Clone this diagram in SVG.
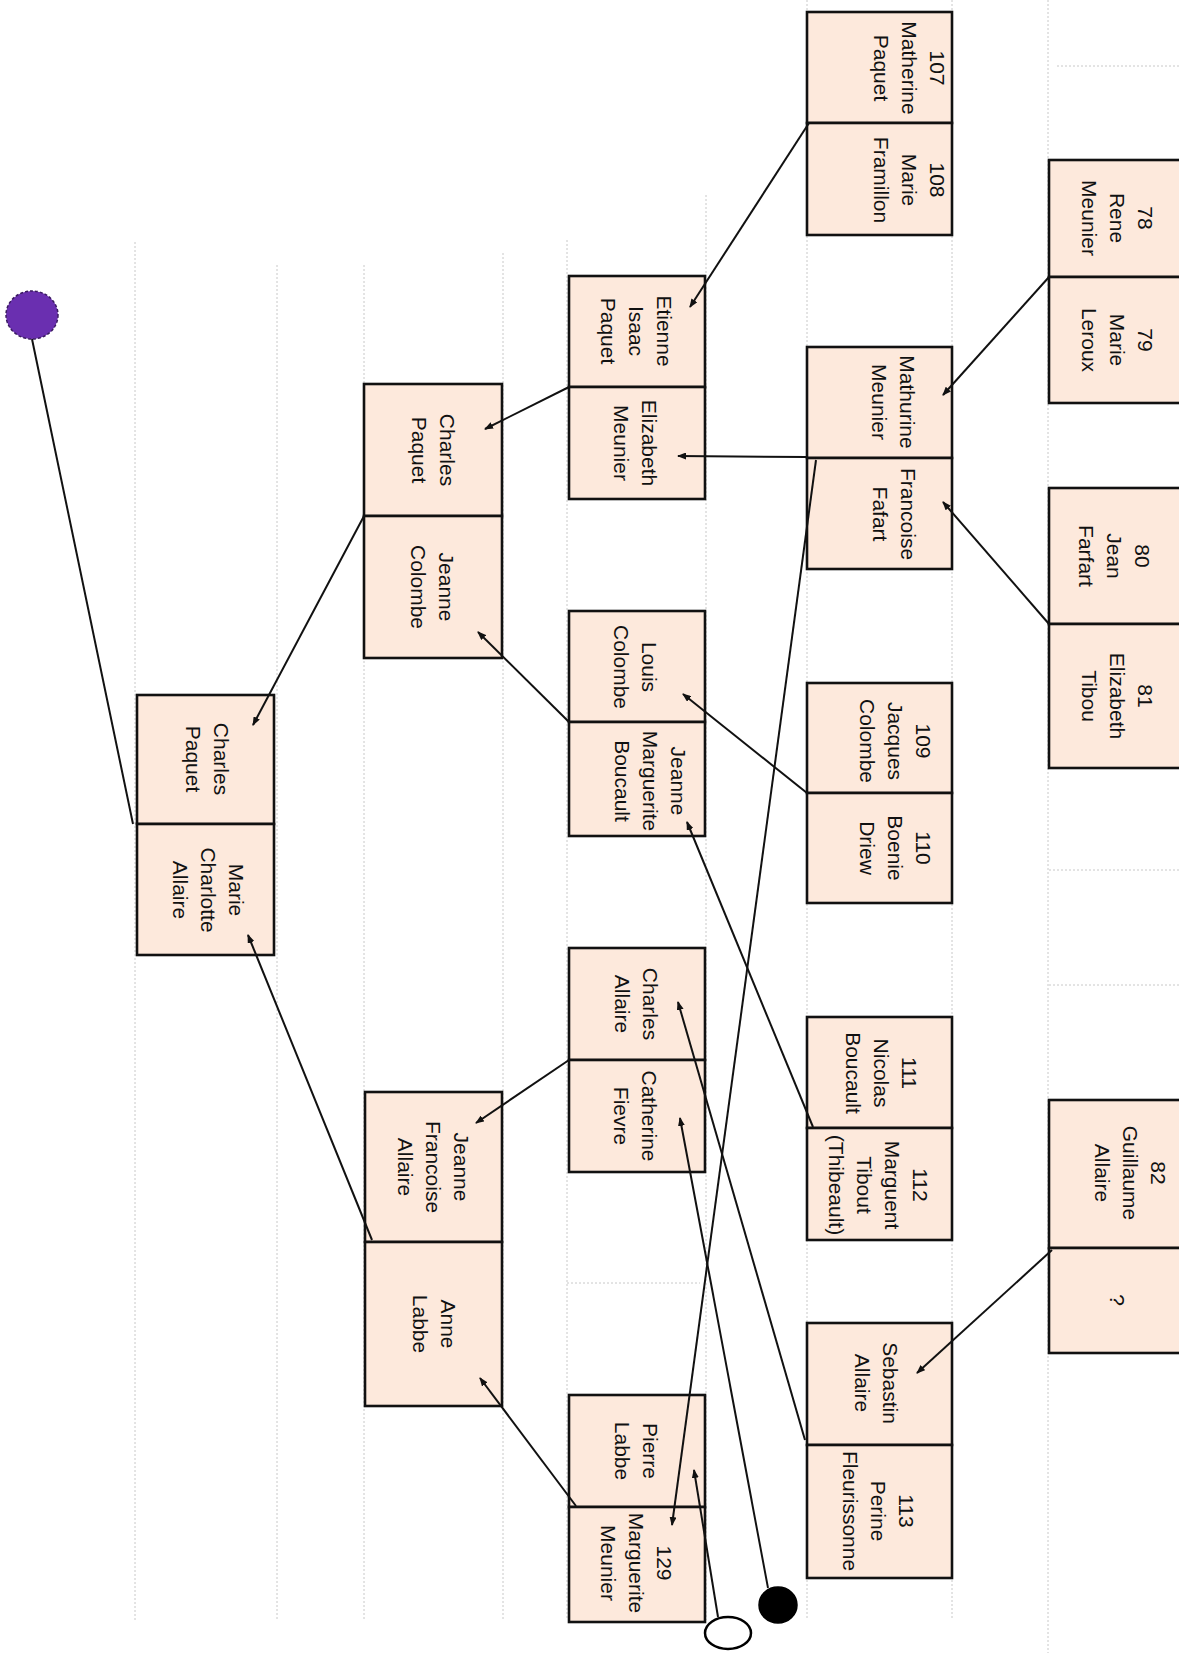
<svg xmlns="http://www.w3.org/2000/svg" width="1179" height="1653" viewBox="0 0 1179 1653">
<style>
.guide{stroke:#c8c8c8;stroke-width:1;stroke-dasharray:2 2;fill:none}
.box{fill:#fde9dc;stroke:#111;stroke-width:2.6}
.t{font-family:"Liberation Sans",Arial,sans-serif;font-size:21px;fill:#111;text-anchor:middle}
.c{stroke:#111;stroke-width:2;fill:none;marker-end:url(#ah)}
.cn{stroke:#111;stroke-width:2;fill:none}
</style>
<defs>
<marker id="ah" markerUnits="userSpaceOnUse" markerWidth="9" markerHeight="7" refX="8" refY="3.5" orient="auto">
<path d="M0,0 L9,3.5 L0,7 z" fill="#111"/>
</marker>
</defs>
<rect width="1179" height="1653" fill="#fff"/>
<g id="guides">
<line class="guide" x1="135" y1="242" x2="135" y2="1620"/>
<line class="guide" x1="277" y1="265" x2="277" y2="1620"/>
<line class="guide" x1="364" y1="265" x2="364" y2="1620"/>
<line class="guide" x1="503" y1="253" x2="503" y2="1620"/>
<line class="guide" x1="567" y1="240" x2="567" y2="1620"/>
<line class="guide" x1="706" y1="195" x2="706" y2="1620"/>
<line class="guide" x1="807" y1="0" x2="807" y2="1620"/>
<line class="guide" x1="952" y1="0" x2="952" y2="1620"/>
<line class="guide" x1="1048" y1="0" x2="1048" y2="1653"/>
<line class="guide" x1="1057" y1="66" x2="1179" y2="66"/>
<line class="guide" x1="1049" y1="870" x2="1179" y2="870"/>
<line class="guide" x1="1049" y1="985" x2="1179" y2="985"/>
<line class="guide" x1="567" y1="1283" x2="700" y2="1283"/>
</g>

<g id="charles_paquet_1"><rect class="box" x="137" y="695" width="137" height="129"/>
<text class="t" transform="translate(207 759) rotate(90)"><tspan x="0" y="-7">Charles</tspan><tspan x="0" y="21">Paquet</tspan></text></g>
<g id="marie_charlotte_allaire"><rect class="box" x="137" y="824" width="137" height="131"/>
<text class="t" transform="translate(208 890) rotate(90)"><tspan x="0" y="-21">Marie</tspan><tspan x="0" y="7">Charlotte</tspan><tspan x="0" y="35">Allaire</tspan></text></g>

<g id="charles_paquet_2"><rect class="box" x="364" y="384" width="138" height="132"/>
<text class="t" transform="translate(433 450) rotate(90)"><tspan x="0" y="-7">Charles</tspan><tspan x="0" y="21">Paquet</tspan></text></g>
<g id="jeanne_colombe"><rect class="box" x="364" y="516" width="138" height="142"/>
<text class="t" transform="translate(432 587) rotate(90)"><tspan x="0" y="-7">Jeanne</tspan><tspan x="0" y="21">Colombe</tspan></text></g>
<g id="jeanne_francoise_allaire"><rect class="box" x="365" y="1092" width="137" height="150"/>
<text class="t" transform="translate(433 1167) rotate(90)"><tspan x="0" y="-21">Jeanne</tspan><tspan x="0" y="7">Francoise</tspan><tspan x="0" y="35">Allaire</tspan></text></g>
<g id="anne_labbe"><rect class="box" x="365" y="1242" width="137" height="164"/>
<text class="t" transform="translate(434 1324) rotate(90)"><tspan x="0" y="-7">Anne</tspan><tspan x="0" y="21">Labbe</tspan></text></g>

<g id="etienne_isaac_paquet"><rect class="box" x="569" y="276" width="136" height="111"/>
<text class="t" transform="translate(636 331) rotate(90)"><tspan x="0" y="-21">Etienne</tspan><tspan x="0" y="7">Isaac</tspan><tspan x="0" y="35">Paquet</tspan></text></g>
<g id="elizabeth_meunier"><rect class="box" x="569" y="387" width="136" height="112"/>
<text class="t" transform="translate(635 443) rotate(90)"><tspan x="0" y="-7">Elizabeth</tspan><tspan x="0" y="21">Meunier</tspan></text></g>
<g id="louis_colombe"><rect class="box" x="569" y="611" width="136" height="111"/>
<text class="t" transform="translate(635 667) rotate(90)"><tspan x="0" y="-7">Louis</tspan><tspan x="0" y="21">Colombe</tspan></text></g>
<g id="jeanne_marguerite_boucault"><rect class="box" x="569" y="722" width="136" height="114"/>
<text class="t" transform="translate(650 781) rotate(90)"><tspan x="0" y="-21">Jeanne</tspan><tspan x="0" y="7">Marguerite</tspan><tspan x="0" y="35">Boucault</tspan></text></g>
<g id="charles_allaire"><rect class="box" x="569" y="948" width="136" height="112"/>
<text class="t" transform="translate(636 1004) rotate(90)"><tspan x="0" y="-7">Charles</tspan><tspan x="0" y="21">Allaire</tspan></text></g>
<g id="catherine_fievre"><rect class="box" x="569" y="1060" width="136" height="112"/>
<text class="t" transform="translate(635 1116) rotate(90)"><tspan x="0" y="-7">Catherine</tspan><tspan x="0" y="21">Fievre</tspan></text></g>
<g id="pierre_labbe"><rect class="box" x="569" y="1395" width="136" height="112"/>
<text class="t" transform="translate(636 1451) rotate(90)"><tspan x="0" y="-7">Pierre</tspan><tspan x="0" y="21">Labbe</tspan></text></g>
<g id="p129_marguerite_meunier"><rect class="box" x="569" y="1507" width="136" height="115"/>
<text class="t" transform="translate(636 1563) rotate(90)"><tspan x="0" y="-21">129</tspan><tspan x="0" y="7">Marguerite</tspan><tspan x="0" y="35">Meunier</tspan></text></g>

<g id="p107_matherine_paquet"><rect class="box" x="807" y="12" width="145" height="111"/>
<text class="t" transform="translate(909 68) rotate(90)"><tspan x="0" y="-21">107</tspan><tspan x="0" y="7">Matherine</tspan><tspan x="0" y="35">Paquet</tspan></text></g>
<g id="p108_marie_framillon"><rect class="box" x="807" y="123" width="145" height="112"/>
<text class="t" transform="translate(909 180) rotate(90)"><tspan x="0" y="-21">108</tspan><tspan x="0" y="7">Marie</tspan><tspan x="0" y="35">Framillon</tspan></text></g>
<g id="mathurine_meunier"><rect class="box" x="807" y="347" width="145" height="111"/>
<text class="t" transform="translate(893 402) rotate(90)"><tspan x="0" y="-7">Mathurine</tspan><tspan x="0" y="21">Meunier</tspan></text></g>
<g id="francoise_fafart"><rect class="box" x="807" y="458" width="145" height="111"/>
<text class="t" transform="translate(894 514) rotate(90)"><tspan x="0" y="-7">Francoise</tspan><tspan x="0" y="21">Fafart</tspan></text></g>
<g id="p109_jacques_colombe"><rect class="box" x="807" y="683" width="145" height="110"/>
<text class="t" transform="translate(895 741) rotate(90)"><tspan x="0" y="-21">109</tspan><tspan x="0" y="7">Jacques</tspan><tspan x="0" y="35">Colombe</tspan></text></g>
<g id="p110_boenie_driew"><rect class="box" x="807" y="793" width="145" height="110"/>
<text class="t" transform="translate(895 848) rotate(90)"><tspan x="0" y="-21">110</tspan><tspan x="0" y="7">Boenie</tspan><tspan x="0" y="35">Driew</tspan></text></g>
<g id="p111_nicolas_boucault"><rect class="box" x="807" y="1017" width="145" height="111"/>
<text class="t" transform="translate(881 1073) rotate(90)"><tspan x="0" y="-21">111</tspan><tspan x="0" y="7">Nicolas</tspan><tspan x="0" y="35">Boucault</tspan></text></g>
<g id="p112_marguent_tibout"><rect class="box" x="807" y="1128" width="145" height="112"/>
<text class="t" transform="translate(878 1185) rotate(90)"><tspan x="0" y="-35">112</tspan><tspan x="0" y="-7">Marguent</tspan><tspan x="0" y="21">Tibout</tspan><tspan x="0" y="49">(Thibeault)</tspan></text></g>
<g id="sebastin_allaire"><rect class="box" x="807" y="1323" width="145" height="122"/>
<text class="t" transform="translate(876 1383) rotate(90)"><tspan x="0" y="-7">Sebastin</tspan><tspan x="0" y="21">Allaire</tspan></text></g>
<g id="p113_perine_fleurissonne"><rect class="box" x="807" y="1445" width="145" height="133"/>
<text class="t" transform="translate(878 1511) rotate(90)"><tspan x="0" y="-21">113</tspan><tspan x="0" y="7">Perine</tspan><tspan x="0" y="35">Fleurissonne</tspan></text></g>

<g id="p78_rene_meunier"><rect class="box" x="1049" y="160" width="150" height="117"/>
<text class="t" transform="translate(1117 218) rotate(90)"><tspan x="0" y="-21">78</tspan><tspan x="0" y="7">Rene</tspan><tspan x="0" y="35">Meunier</tspan></text></g>
<g id="p79_marie_leroux"><rect class="box" x="1049" y="277" width="150" height="126"/>
<text class="t" transform="translate(1117 340) rotate(90)"><tspan x="0" y="-21">79</tspan><tspan x="0" y="7">Marie</tspan><tspan x="0" y="35">Leroux</tspan></text></g>
<g id="p80_jean_farfart"><rect class="box" x="1049" y="488" width="150" height="136"/>
<text class="t" transform="translate(1114 556) rotate(90)"><tspan x="0" y="-21">80</tspan><tspan x="0" y="7">Jean</tspan><tspan x="0" y="35">Farfart</tspan></text></g>
<g id="p81_elizabeth_tibou"><rect class="box" x="1049" y="624" width="150" height="144"/>
<text class="t" transform="translate(1117 696) rotate(90)"><tspan x="0" y="-21">81</tspan><tspan x="0" y="7">Elizabeth</tspan><tspan x="0" y="35">Tibou</tspan></text></g>
<g id="p82_guillaume_allaire"><rect class="box" x="1049" y="1100" width="150" height="148"/>
<text class="t" transform="translate(1130 1173) rotate(90)"><tspan x="0" y="-21">82</tspan><tspan x="0" y="7">Guillaume</tspan><tspan x="0" y="35">Allaire</tspan></text></g>
<g id="unknown"><rect class="box" x="1049" y="1248" width="150" height="105"/>
<text class="t" transform="translate(1117 1300) rotate(90)"><tspan x="0" y="7">?</tspan></text></g>

<g id="connectors">
<line class="cn" x1="32" y1="339" x2="133" y2="824"/>
<line class="c" x1="364" y1="516" x2="253" y2="725"/>
<line class="c" x1="372" y1="1240" x2="248" y2="935"/>
<line class="c" x1="569" y1="387" x2="485" y2="429"/>
<line class="c" x1="569" y1="722" x2="478" y2="632"/>
<line class="c" x1="569" y1="1060" x2="476" y2="1123"/>
<line class="c" x1="576" y1="1506" x2="480" y2="1378"/>
<line class="c" x1="809" y1="123" x2="690" y2="307"/>
<line class="c" x1="807" y1="457" x2="678" y2="456"/>
<line class="c" x1="807" y1="793" x2="683" y2="694"/>
<line class="c" x1="813" y1="1127" x2="687" y2="822"/>
<line class="c" x1="805" y1="1440" x2="678" y2="1002"/>
<line class="c" x1="768" y1="1588" x2="680" y2="1118"/>
<line class="c" x1="718" y1="1617" x2="694" y2="1470"/>
<line class="c" x1="816" y1="460" x2="672" y2="1525"/>
<line class="c" x1="1049" y1="277" x2="943" y2="395"/>
<line class="c" x1="1049" y1="624" x2="943" y2="502"/>
<line class="c" x1="1052" y1="1250" x2="917" y2="1373"/>
<ellipse cx="32" cy="315" rx="26" ry="24" fill="#6a2fb0" stroke="#3a1a60" stroke-width="1.5" stroke-dasharray="3 2"/>
<ellipse cx="778" cy="1605" rx="19" ry="18" fill="#000" stroke="#000" stroke-width="1.5"/>
<ellipse cx="728" cy="1633" rx="23" ry="16" fill="#fff" stroke="#000" stroke-width="2.5"/>
</g>
</svg>
